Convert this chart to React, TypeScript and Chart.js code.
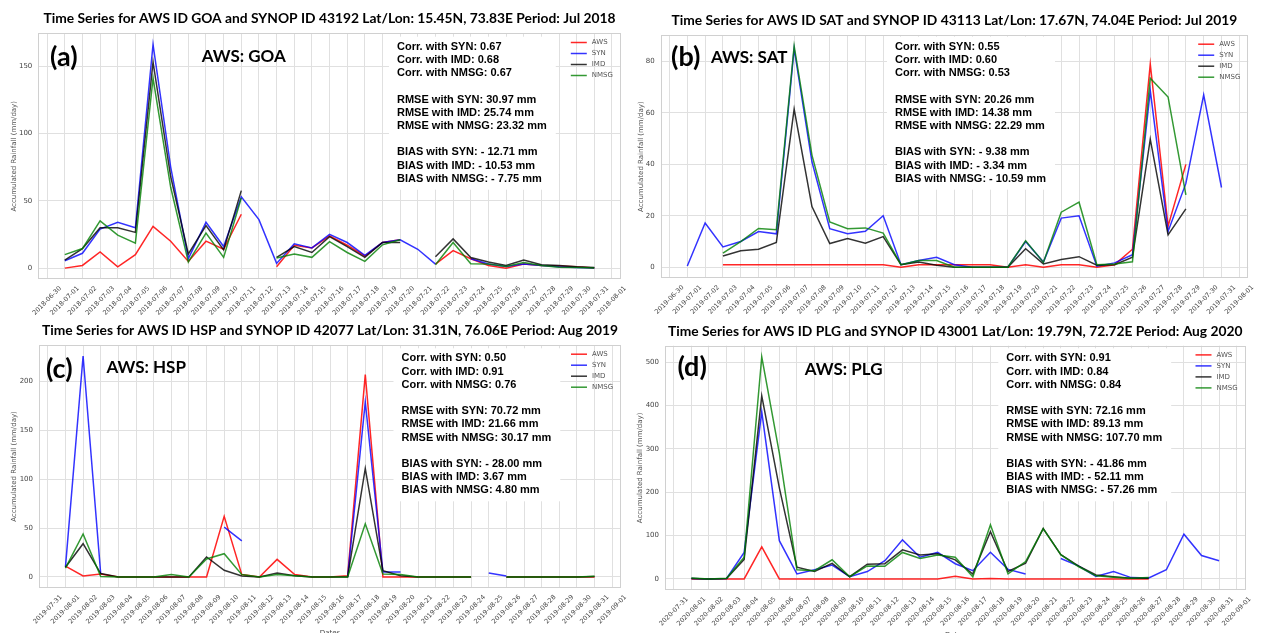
import React, { useEffect, useRef } from 'react';
import { Chart, registerables } from 'chart.js';

Chart.register(...registerables);

// ---------- tick labels ----------
const julyDays = ['06-30', '07-01', '07-02', '07-03', '07-04', '07-05', '07-06', '07-07', '07-08', '07-09', '07-10',
  '07-11', '07-12', '07-13', '07-14', '07-15', '07-16', '07-17', '07-18', '07-19', '07-20', '07-21', '07-22',
  '07-23', '07-24', '07-25', '07-26', '07-27', '07-28', '07-29', '07-30', '07-31', '08-01'];
const augDays = ['07-31', '08-01', '08-02', '08-03', '08-04', '08-05', '08-06', '08-07', '08-08', '08-09', '08-10',
  '08-11', '08-12', '08-13', '08-14', '08-15', '08-16', '08-17', '08-18', '08-19', '08-20', '08-21', '08-22',
  '08-23', '08-24', '08-25', '08-26', '08-27', '08-28', '08-29', '08-30', '08-31', '09-01'];

const labelsA = julyDays.map((d) => '2018-' + d);
const labelsB = julyDays.map((d) => '2019-' + d);
const labelsC = augDays.map((d) => '2019-' + d);
const labelsD = augDays.map((d) => '2020-' + d);

const seriesNames = ['AWS', 'SYN', 'IMD', 'NMSG'];
const seriesColors = ['rgba(255,0,0,0.85)', 'rgba(0,0,255,0.8)', 'rgba(0,0,0,0.8)', 'rgba(0,128,0,0.8)'];

// ---------- (a) GOA, Jul 2018 ----------
const awsA = [null, 0, 2, 12, 1, 10, 31, 20, 5, 20, 14, 40, null, 1, 17, 15, 24, 17, 9, 19, 21, null, 3, 13, 7, 2, 0, 3, 2, 1.5, 1, 0, null];
const synA = [null, 5.5, 11, 29, 34, 30, 166, 75, 7, 34, 16, 53, 36, 3.5, 18, 15, 25, 19, 9.5, 19, 21, 14, 3, null, 7, 3, 1.2, 3, 2, 1, 0.5, 0, null];
const imdA = [null, 6, 14.5, 30, 30, 26.5, 153, 68, 10.5, 31.5, 13.5, 57.5, null, 8, 16, 11.6, 23.4, 16, 8, 19, 19, null, 8.5, 21.7, 7.9, 4.5, 2, 6, 2.5, 2, 1, 0.5, null];
const nmsgA = [null, 10, 14.5, 35, 24.5, 18.5, 141, 60, 4.5, 26, 8, 52, null, 7.5, 10.5, 8, 19.7, 11.6, 5, 17.3, 21, null, 2.5, 19, 3.2, 3, 1.2, 4.2, 2, 0.7, 0.5, 0, null];
const ticksA = [0, 50, 100, 150];
const statsA = ['Corr. with SYN: 0.67', 'Corr. with IMD: 0.68', 'Corr. with NMSG: 0.67', '',
  'RMSE with SYN: 30.97 mm', 'RMSE with IMD: 25.74 mm', 'RMSE with NMSG: 23.32 mm', '',
  'BIAS with SYN: - 12.71 mm', 'BIAS with IMD: - 10.53 mm', 'BIAS with NMSG: - 7.75 mm'];

// ---------- (b) SAT, Jul 2019 ----------
const awsB = [null, null, null, 1, 1, 1, 1, 1, 1, 1, 1, 1, 1, 0, 1, 1, 1, 1, 1, 0, 1, 0, 1, 1, 0, 1, 7, 79, 16, 40, null, null, null];
const synB = [null, 0.5, 17.2, 7.9, 10, 13.9, 13, 85, 41, 15, 13, 14, 20, 1, 2.6, 3.9, 1, 0, 0, 0, 10, 2, 19.1, 20, 0.4, 1.7, 4.9, 68.7, 13.9, 32.6, 67, 31, null];
const imdB = [null, null, null, 4.4, 6.4, 7, 9.6, 61.5, 23.6, 9.2, 11.2, 9.3, 11.9, 1, 2, 0.8, 0, 0, 0, 0, 7.2, 1.3, 3, 4.1, 0.8, 1, 3.9, 49.8, 12.6, 22.7, null, null, null];
const nmsgB = [null, null, null, 5.5, 10, 15.1, 14.6, 86, 43.6, 17.6, 15, 15.3, 13.3, 1, 2.6, 2.6, 0, 0, 0, 0, 10.3, 1.9, 21.4, 25.3, 1, 1.3, 2.1, 73.5, 66.2, 28.1, null, null, null];
const ticksB = [0, 20, 40, 60, 80];
const statsB = ['Corr. with SYN: 0.55', 'Corr. with IMD: 0.60', 'Corr. with NMSG: 0.53', '',
  'RMSE with SYN: 20.26 mm', 'RMSE with IMD: 14.38 mm', 'RMSE with NMSG: 22.29 mm', '',
  'BIAS with SYN: - 9.38 mm', 'BIAS with IMD: - 3.34 mm', 'BIAS with NMSG: - 10.59 mm'];

// ---------- (c) HSP, Aug 2019 ----------
const awsC = [null, 11, 1, 3, 0, 0, 0, 0, 0, 0, 62, 2.4, 0, 18, 2.4, 0, 0, 1.3, 207, 0, 0, 0, 0, 0, 0, null, 0, 0, 0, 0, 0, 0, null];
const synC = [null, 10, 226, 3, null, null, null, null, null, null, 51, 37, null, null, null, null, null, 0, 179, 5, 5, null, null, null, null, 4, 1, null, null, null, null, null, null];
const imdC = [null, 10, 34, 3.5, 0, 0, 0, 0, 0, 20.4, 6.8, 1, 0, 4, 1.3, 0, 0, 0, 111, 6.4, 1.3, 0, 0, 0, 0, null, 0, 0, 0, 0, 0, 0.5, null];
const nmsgC = [null, 9, 44, 0.5, 0, 0, 0, 2.5, 0, 18.4, 23.8, 2.4, 0, 2.4, 1.3, 0, 0, 0, 54.4, 3.1, 2.4, 0, 0, 0, 0, null, 0, 0, 0, 0, 0, 0.7, null];
const ticksC = [0, 50, 100, 150, 200];
const statsC = ['Corr. with SYN: 0.50', 'Corr. with IMD: 0.91', 'Corr. with NMSG: 0.76', '',
  'RMSE with SYN: 70.72 mm', 'RMSE with IMD: 21.66 mm', 'RMSE with NMSG: 30.17 mm', '',
  'BIAS with SYN: - 28.00 mm', 'BIAS with IMD: 3.67 mm', 'BIAS with NMSG: 4.80 mm'];

// ---------- (d) PLG, Aug 2020 ----------
const awsD = [null, 0, 0, 0, 0, 74, 0, 0, 0, 0, 0, 0, 0, 0, 0, 0, 6, 0, 1, 0, 0, 0, 0, 0, 0, 0, 0, 0, null, null, null, null, null];
const synD = [null, 1, 0, 1, 61, 385, 88, 11.5, 21, 32, 5, 17, 42, 90, 50, 61, 35, 19, 61.5, 22, 11.5, null, 47, 30, 5.4, 17, 3, 2, 21, 103, 54, 42, null];
const imdD = [null, 1, 0, 1, 45, 422, 210, 27, 17, 36, 5, 34, 35, 67, 55, 58, 44, 11, 109, 17, 36, 116, 56, 30, 9, 5, 1.5, 1.5, null, null, null, null, null];
const nmsgD = [null, 2, 0, 1.5, 50, 512, 290, 21, 19, 44, 5, 30, 29, 61, 47, 55, 50, 5, 125, 11.5, 40, 116, 56, 28.5, 7, 4, 1.5, 3, null, null, null, null, null];
const ticksD = [0, 100, 200, 300, 400, 500];
const statsD = ['Corr. with SYN: 0.91', 'Corr. with IMD: 0.84', 'Corr. with NMSG: 0.84', '',
  'RMSE with SYN: 72.16 mm', 'RMSE with IMD: 89.13 mm', 'RMSE with NMSG: 107.70 mm', '',
  'BIAS with SYN: - 41.86 mm', 'BIAS with IMD: - 52.11 mm', 'BIAS with NMSG: - 57.26 mm'];

type Panel = {
  id: string;
  canvas: { x: number; y: number; w: number; h: number };
  plot: { L: number; R: number; T: number; B: number };
  labels: string[];
  series: (number | null)[][];
  yTicks: number[];
  title: string;
  tag: string;
  tagPos: [number, number];
  station: string;
  stationPos: [number, number];
  stats: string[];
  statsPos: [number, number];
  showDates: boolean;
};

const panels: Panel[] = [
  {
    id: 'a', canvas: { x: 0, y: 0, w: 631, h: 320 }, plot: { L: 38.3, R: 620.8, T: 33.3, B: 279.3 },
    labels: labelsA, series: [awsA, synA, imdA, nmsgA], yTicks: ticksA,
    title: 'Time Series for AWS ID GOA and SYNOP ID 43192 Lat/Lon: 15.45N, 73.83E Period: Jul 2018',
    tag: '(a)', tagPos: [50, 66], station: 'AWS: GOA', stationPos: [201.7, 61.7],
    stats: statsA, statsPos: [397, 46.7], showDates: false,
  },
  {
    id: 'b', canvas: { x: 631, y: 0, w: 632, h: 320 }, plot: { L: 660.6, R: 1248.2, T: 35, B: 278.3 },
    labels: labelsB, series: [awsB, synB, imdB, nmsgB], yTicks: ticksB,
    title: 'Time Series for AWS ID SAT and SYNOP ID 43113 Lat/Lon: 17.67N, 74.04E Period: Jul 2019',
    tag: '(b)', tagPos: [671, 66], station: 'AWS: SAT', stationPos: [711, 63.3],
    stats: statsB, statsPos: [895, 46.7], showDates: false,
  },
  {
    id: 'c', canvas: { x: 0, y: 316, w: 631, h: 317 }, plot: { L: 39, R: 621, T: 345, B: 588 },
    labels: labelsC, series: [awsC, synC, imdC, nmsgC], yTicks: ticksC,
    title: 'Time Series for AWS ID HSP and SYNOP ID 42077 Lat/Lon: 31.31N, 76.06E Period: Aug 2019',
    tag: '(c)', tagPos: [46, 377.5], station: 'AWS: HSP', stationPos: [106.4, 373.3],
    stats: statsC, statsPos: [401.5, 358.3], showDates: true,
  },
  {
    id: 'd', canvas: { x: 631, y: 316, w: 632, h: 317 }, plot: { L: 665, R: 1245.5, T: 345.7, B: 590 },
    labels: labelsD, series: [awsD, synD, imdD, nmsgD], yTicks: ticksD,
    title: 'Time Series for AWS ID PLG and SYNOP ID 43001 Lat/Lon: 19.79N, 72.72E Period: Aug 2020',
    tag: '(d)', tagPos: [677.4, 376], station: 'AWS: PLG', stationPos: [804.7, 375],
    stats: statsD, statsPos: [1006.3, 358.3], showDates: true,
  },
];

const Y_AXIS_W = 26;
const GRID = '#e0e0e0';
const TICK_COLOR = '#444';
const SMALL_FONT = '"DejaVu Sans", sans-serif';
const TITLE_FONT = 'Lato, "Open Sans", sans-serif';
const STATS_FONT = '"Liberation Sans", Arial, sans-serif';

function makeDecor(p: Panel) {
  return {
    id: 'decor_' + p.id,
    afterDraw(chart: any) {
      const ctx: CanvasRenderingContext2D = chart.ctx;
      const a = chart.chartArea;
      const ox = p.canvas.x;
      const oy = p.canvas.y;
      ctx.save();

      // frame
      ctx.strokeStyle = '#d0d0d0';
      ctx.lineWidth = 1;
      const fl = Math.round(a.left) + 0.5, ft = Math.round(a.top) + 0.5;
      const fr = Math.round(a.right) - 0.5, fb = Math.round(a.bottom) - 0.5;
      ctx.strokeRect(fl, ft, fr - fl, fb - ft);

      // x tick labels (rotated, centred on tick like matplotlib)
      const xs = chart.scales.x;
      ctx.fillStyle = TICK_COLOR;
      ctx.font = '6.5px ' + SMALL_FONT;
      ctx.textAlign = 'center';
      ctx.textBaseline = 'middle';
      p.labels.forEach((lab, i) => {
        const x = xs.getPixelForTick(i);
        ctx.save();
        ctx.translate(x, a.bottom + 21.5);
        ctx.rotate(-Math.PI / 4);
        ctx.fillText(lab, 0, 0);
        ctx.restore();
      });

      // x axis title
      if (p.showDates) {
        ctx.font = '7px ' + SMALL_FONT;
        ctx.textBaseline = 'top';
        ctx.fillText('Dates', (a.left + a.right) / 2, a.bottom + 42);
      }

      // y axis title
      const ys = chart.scales.y;
      ctx.font = '7px ' + SMALL_FONT;
      let maxW = 0;
      ys.ticks.forEach((t: any) => { maxW = Math.max(maxW, ctx.measureText(String(t.label)).width); });
      ctx.save();
      ctx.translate(a.left - 6 - maxW - 5, (a.top + a.bottom) / 2);
      ctx.rotate(-Math.PI / 2);
      ctx.textAlign = 'center';
      ctx.textBaseline = 'middle';
      ctx.fillStyle = '#555';
      ctx.fillText('Accumulated Rainfall (mm/day)', 0, 0);
      ctx.restore();

      // title
      ctx.fillStyle = '#000';
      ctx.font = 'bold 13.8px ' + TITLE_FONT;
      ctx.textAlign = 'center';
      ctx.textBaseline = 'middle';
      ctx.fillText(p.title, (a.left + a.right) / 2, a.top - 14.5);

      // panel tag and station name
      ctx.textAlign = 'left';
      ctx.textBaseline = 'alphabetic';
      ctx.font = 'bold 27px ' + TITLE_FONT;
      ctx.fillText(p.tag, p.tagPos[0] - ox, p.tagPos[1] - oy);
      ctx.font = 'bold 17px ' + TITLE_FONT;
      ctx.fillText(p.station, p.stationPos[0] - ox, p.stationPos[1] - oy);

      // statistics box
      ctx.font = 'bold 11px ' + STATS_FONT;
      const lh = 13.2;
      const sx = p.statsPos[0] - ox;
      const sy = p.statsPos[1] - oy;
      let sw = 0;
      p.stats.forEach((s) => { sw = Math.max(sw, ctx.measureText(s).width); });
      ctx.fillStyle = '#fff';
      ctx.fillRect(sx - 8, sy - 10, sw + 17, lh * (p.stats.length - 1) + 21);
      ctx.fillStyle = '#000';
      ctx.textBaseline = 'middle';
      p.stats.forEach((s, i) => { if (s) ctx.fillText(s, sx, sy + i * lh); });

      // legend
      ctx.font = '7px ' + SMALL_FONT;
      seriesNames.forEach((name, i) => {
        const y = a.top + 9.2 + i * 11;
        ctx.strokeStyle = seriesColors[i];
        ctx.lineWidth = 1.5;
        ctx.beginPath();
        ctx.moveTo(a.right - 50, y);
        ctx.lineTo(a.right - 34, y);
        ctx.stroke();
        ctx.fillStyle = '#555';
        ctx.fillText(name, a.right - 29, y);
      });

      ctx.restore();
    },
  };
}

function buildConfig(p: Panel): any {
  const c = p.canvas;
  const pl = p.plot;
  const all = p.series.flat().filter((v) => v !== null) as number[];
  const dataMax = Math.max(...all);
  return {
    type: 'line',
    data: {
      labels: p.labels,
      datasets: p.series.map((s, i) => ({
        label: seriesNames[i],
        data: s,
        borderColor: seriesColors[i],
        backgroundColor: seriesColors[i],
        borderWidth: 1.5,
        pointRadius: 0,
        pointHoverRadius: 0,
        tension: 0,
        fill: false,
        spanGaps: false,
        order: 4 - i,
      })),
    },
    options: {
      animation: false,
      responsive: false,
      maintainAspectRatio: false,
      devicePixelRatio: 1,
      events: [],
      layout: {
        padding: {
          left: pl.L - c.x - Y_AXIS_W,
          top: pl.T - c.y,
          right: c.x + c.w - pl.R,
          bottom: 0,
        },
      },
      plugins: {
        legend: { display: false },
        title: { display: false },
        tooltip: { enabled: false },
      },
      scales: {
        x: {
          type: 'category',
          offset: true,
          grid: { color: GRID, lineWidth: 1, drawTicks: false, offset: false },
          border: { display: false },
          ticks: { display: false },
          afterFit: (s: any) => { s.height = c.y + c.h - pl.B; },
        },
        y: {
          type: 'linear',
          min: -0.05 * dataMax,
          max: 1.05 * dataMax,
          grid: { color: GRID, lineWidth: 1, drawTicks: false },
          border: { display: false },
          ticks: { color: TICK_COLOR, padding: 6, font: { family: SMALL_FONT, size: 7 } },
          afterBuildTicks: (s: any) => { s.ticks = p.yTicks.map((v) => ({ value: v })); },
          afterFit: (s: any) => { s.width = Y_AXIS_W; },
        },
      },
    },
    plugins: [makeDecor(p)],
  };
}

function PanelChart({ p }: { p: Panel }) {
  const ref = useRef<HTMLCanvasElement | null>(null);
  useEffect(() => {
    if (!ref.current) return;
    const chart = new Chart(ref.current, buildConfig(p));
    return () => chart.destroy();
  }, [p]);
  return (
    <canvas
      ref={ref}
      width={p.canvas.w}
      height={p.canvas.h}
      style={{ position: 'absolute', left: p.canvas.x, top: p.canvas.y, width: p.canvas.w, height: p.canvas.h }}
    />
  );
}

export default function App() {
  return (
    <div style={{ position: 'absolute', left: 0, top: 0, width: 1263, height: 633, background: '#fff', overflow: 'hidden' }}>
      {panels.map((p) => <PanelChart key={p.id} p={p} />)}
    </div>
  );
}
